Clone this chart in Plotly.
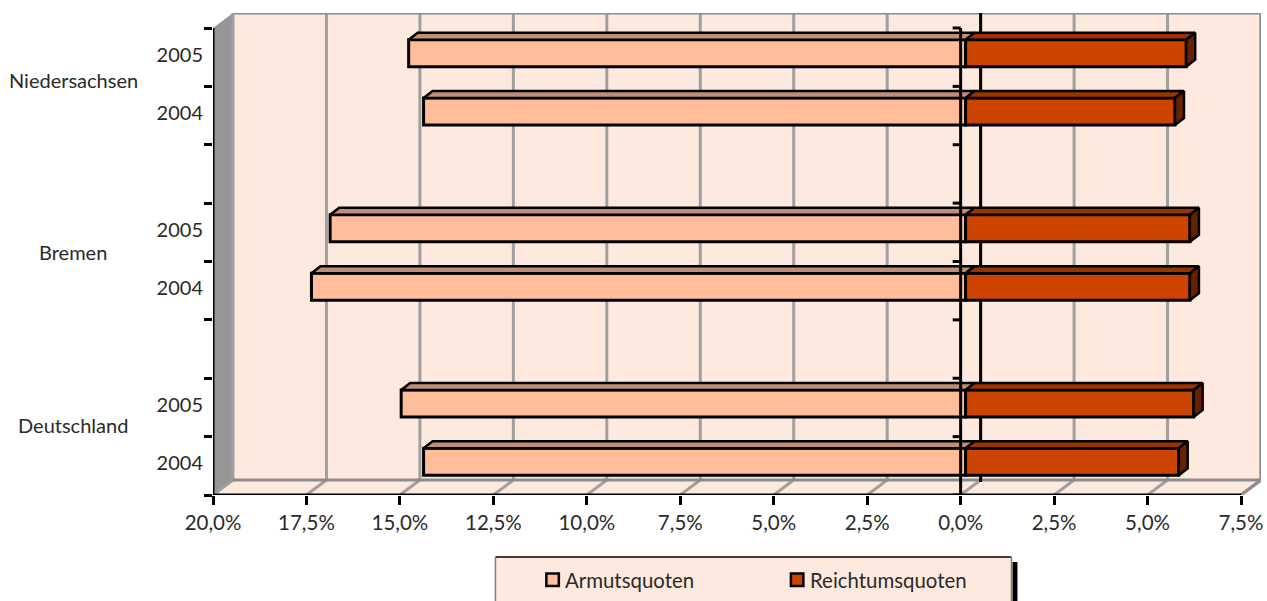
import plotly.graph_objects as go

# ---- data ----
slots = ["Deutschland 2004", "Deutschland 2005", "", "Bremen 2004", "Bremen 2005", "", "Niedersachsen 2004", "Niedersachsen 2005"]
year_labels = ["2004", "2005", "2004", "2005", "2004", "2005"]
year_slots = [0, 1, 3, 4, 6, 7]
groups = ["Deutschland", "Bremen", "Niedersachsen"]
group_pos = [1.2, 4.16, 7.11]
armut = [-14.5, -15.1, -17.5, -17.0, -14.5, -14.9]
reichtum = [5.7, 6.1, 6.0, 6.0, 5.6, 5.9]
x_ticks = [-20, -17.5, -15, -12.5, -10, -7.5, -5, -2.5, 0, 2.5, 5, 7.5]
x_labels = ["20,0%", "17,5%", "15,0%", "12,5%", "10,0%", "7,5%", "5,0%", "2,5%", "0,0%", "2,5%", "5,0%", "7,5%"]
legend_names = ["Armutsquoten", "Reichtumsquoten"]

# ---- style / projection ----
W, H = 1267, 601
ML, MR, MT, MB = 213, 4, 13, 106
PX_X = 37.4          # pixels per percentage point
PX_Y = 58.375        # pixels per slot
DX = 20 / PX_X       # depth of the box along x
DY = 15 / PX_Y       # depth of the box along y
BX0, BY0 = 5 / PX_X, 4 / PX_Y      # bar front offset
BDX, BDY = 9 / PX_X, 7 / PX_Y      # bar depth
BH = 27 / PX_Y
WALL = "#FEE9DE"
SIDE = "#969696"
GRID = "#A0A0A0"
EDGE = "#8C8C8C"
TXT = "#2a2a2a"
FONT = "Lato"
FS = 20
C_A, C_A_TOP = "#FFBD9C", "#BF8E76"
C_R, C_R_TOP, C_R_SIDE = "#CC4400", "#993300", "#662200"

shapes = []
def poly(xs, ys, fill, line=None, w=0, layer="below"):
    p = "M" + "L".join(f"{a},{b}" for a, b in zip(xs, ys)) + "Z"
    shapes.append(dict(type="path", path=p, xref="x", yref="y", fillcolor=fill, layer=layer,
                       line=dict(color=line or fill, width=w)))
def seg(x0, y0, x1, y1, color, w, layer="below"):
    shapes.append(dict(type="line", x0=x0, y0=y0, x1=x1, y1=y1, xref="x", yref="y", layer=layer,
                       line=dict(color=color, width=w)))

XL, XR = x_ticks[0], x_ticks[-1]
YT = len(slots)
# walls
poly([XL, XL + DX, XL + DX, XL], [0, DY, YT + DY, YT], SIDE)
poly([XL + DX, XR + DX, XR + DX, XL + DX], [DY, DY, YT + DY, YT + DY], WALL)
poly([XL, XR, XR + DX, XL + DX], [0, 0, DY, DY], WALL)
for t in x_ticks:
    seg(t, 0, t + DX, DY, GRID, 3)
    seg(t + DX, DY, t + DX, YT + DY, GRID, 3)
seg(XL + DX, YT + DY, XR + DX, YT + DY, EDGE, 3)
seg(XR + DX, DY, XR + DX, YT + DY, EDGE, 3)
seg(XL + DX, DY, XR + DX, DY, EDGE, 3)
seg(XR, 0, XR + DX, DY, EDGE, 3)
# back zero line
seg(DX, DY - 2 / PX_Y, DX, YT + DY + 3 / PX_Y, "#000000", 3)

fig = go.Figure()

# bars: top and side faces from the values, then the front face
def face(xs, ys, fill, name):
    fig.add_trace(go.Scatter(x=xs, y=ys, mode="lines", fill="toself", fillcolor=fill,
                             line=dict(color="#000000", width=2.5), showlegend=False,
                             hoverinfo="skip", name=name, xaxis="x", yaxis="y"))

for s, a, r in zip(year_slots, armut, reichtum):
    yc = s + 0.5 + BY0
    top = yc + BH / 2
    bot = yc - BH / 2
    face([BX0 + a, BX0 + a + BDX, BX0 + BDX, BX0, BX0 + a],
         [top, top + BDY, top + BDY, top, top], C_A_TOP, "Armutsquoten oben")
    face([BX0, BX0 + BDX, BX0 + r + BDX, BX0 + r, BX0],
         [top, top + BDY, top + BDY, top, top], C_R_TOP, "Reichtumsquoten oben")
    face([BX0 + r, BX0 + r + BDX, BX0 + r + BDX, BX0 + r, BX0 + r],
         [top, top + BDY, bot + BDY, bot, top], C_R_SIDE, "Reichtumsquoten Seite")

bar_y = [s + 0.5 + BY0 for s in year_slots]
fig.add_trace(go.Bar(y=bar_y, x=armut, base=BX0, orientation="h", width=BH, name=legend_names[0],
                     marker=dict(color=C_A, line=dict(color="#000000", width=3)), showlegend=False))
fig.add_trace(go.Bar(y=bar_y, x=reichtum, base=BX0, orientation="h", width=BH, name=legend_names[1],
                     marker=dict(color=C_R, line=dict(color="#000000", width=3)), showlegend=False))
# invisible carrier of the slot ticks
fig.add_trace(go.Scatter(x=[XL], y=[0], mode="markers", marker=dict(opacity=0), yaxis="y2",
                         showlegend=False, hoverinfo="skip"))

# front axes
seg(XL, 0, XR, 0, "#000000", 3, "above")
seg(XL, 0, XL, YT, "#000000", 3, "above")
seg(0, 0, 0, YT, "#000000", 3, "above")
for i in range(YT + 1):
    seg(-8 / PX_X, i, 0, i, "#000000", 3, "above")

# legend, placed in page pixels
PW, PH = W - ML - MR, H - MT - MB
def lx(v): return (v - ML) / PW
def ly(v): return (H - MB - v) / PH
def box(x0, y0, x1, y1, fill, line=None, w=0):
    shapes.append(dict(type="rect", xref="paper", yref="paper", x0=lx(x0), x1=lx(x1), y0=ly(y0), y1=ly(y1),
                       fillcolor=fill, layer="above", line=dict(color=line or fill, width=w)))
def pseg(x0, y0, x1, y1, color, w):
    shapes.append(dict(type="line", xref="paper", yref="paper", x0=lx(x0), x1=lx(x1), y0=ly(y0), y1=ly(y1),
                       layer="above", line=dict(color=color, width=w)))
box(1014, 562, 1019, 610, "#000000")
box(496, 557, 1013, 610, WALL)
pseg(496, 557, 1013, 557, "#000000", 1.5)
pseg(496, 557, 496, 610, "#808080", 1.5)
pseg(1013, 557, 1013, 610, "#808080", 1.5)
box(547, 573.5, 559.5, 586, C_A, "#000000", 2.5)
box(792, 573.5, 804.5, 586, C_R, "#000000", 2.5)

annotations = []
for g, p in zip(groups, group_pos):
    annotations.append(dict(x=XL, y=p, xref="x", yref="y", text=g, showarrow=False, xanchor="center",
                            xshift=-140, font=dict(family=FONT, size=FS, color=TXT)))
for name, tx in zip(legend_names, [565, 810]):
    annotations.append(dict(x=lx(tx), y=ly(580), xref="paper", yref="paper", text=name, showarrow=False,
                            xanchor="left", yanchor="middle", xshift=-1, font=dict(family=FONT, size=20.4, color=TXT)))

fig.update_layout(
    width=W, height=H, margin=dict(l=ML, r=MR, t=MT, b=MB, pad=0),
    paper_bgcolor="white", plot_bgcolor="white", showlegend=False, barmode="overlay",
    font=dict(family=FONT, size=FS, color=TXT),
    xaxis=dict(range=[XL, XR + DX], tickvals=x_ticks, ticktext=x_labels, ticks="outside", ticklen=9,
               tickwidth=3, tickcolor="#000000", showgrid=False, zeroline=False, showline=False,
               tickfont=dict(family=FONT, size=20.5, color=TXT)),
    yaxis=dict(range=[0, YT + DY], tickvals=[s + 0.54 for s in year_slots], ticktext=year_labels,
               ticks="outside", ticklen=5, tickcolor="rgba(0,0,0,0)", showgrid=False, zeroline=False, showline=False,
               tickfont=dict(family=FONT, size=FS, color=TXT)),
    yaxis2=dict(range=[0, YT + DY], overlaying="y", tickvals=list(range(YT + 1)), ticktext=[""] * (YT + 1),
                ticks="outside", ticklen=8, tickwidth=3, tickcolor="#000000", showgrid=False,
                zeroline=False, showline=False, side="left"),
    shapes=shapes, annotations=annotations,
)
fig.write_html("out.html", config={"displayModeBar": False}, post_script="document.body.style.margin='0';")
